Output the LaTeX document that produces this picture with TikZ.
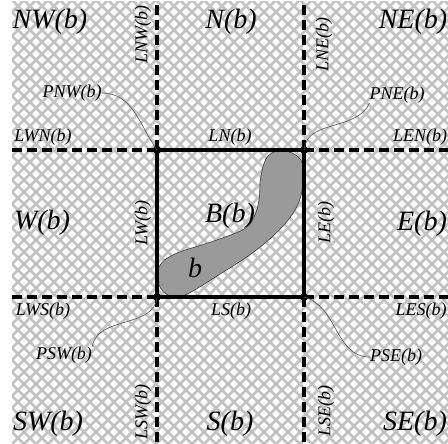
\documentclass[tikz,border=0pt]{standalone}
\usepackage{fontspec}
\setmainfont{Liberation Serif}
\usetikzlibrary{positioning, calc}
\usepackage{xcolor}
\definecolor{hatchgray}{HTML}{C2C2C2}
\definecolor{blobgray}{HTML}{9A9A9A}
\definecolor{leadgray}{HTML}{555555}

\begin{document}
\begin{tikzpicture}[x=1pt, y=1pt,
    big/.style={inner sep=0pt, font=\fontsize{28}{28}\selectfont\itshape},
    small/.style={inner sep=0pt, font=\fontsize{18}{18}\selectfont\itshape},
    side/.style={small, rotate=90},
    hatch/.style={draw=hatchgray, line width=2.7pt},
    border/.style={line width=3.6pt, dash pattern=on 10pt off 5pt},
    boxline/.style={line width=3.4pt},
    leader/.style={draw=leadgray, line width=0.6pt}]
    \useasboundingbox (0,0) rectangle (448,444);
    \begin{scope}
      \clip (12,0) rectangle (448,442);
      \foreach \k in {-456,-444,...,912} {
        \draw[hatch] (\k,0) -- ++(470,470);
        \draw[hatch] (\k,0) -- ++(-470,470);
      }
    \end{scope}

    \coordinate (cnw) at (157,294);
    \coordinate (cne) at (304,294);
    \coordinate (csw) at (157,147);
    \coordinate (cse) at (304,147);
    \coordinate (wn) at (12,294);
    \coordinate (en) at (448,294);
    \coordinate (ws) at (12,147);
    \coordinate (es) at (448,147);
    \coordinate (nw) at (157,442);
    \coordinate (ne) at (304,442);
    \coordinate (sw) at (157,0);
    \coordinate (se) at (304,0);

    \draw[fill=blobgray, draw=black!75, line width=0.6pt] plot[smooth cycle, tension=0.65] coordinates {
      (284,293) (301,284) (303,262) (298,240) (283,218) (255,193)
      (217,168) (185,149) (170,148) (159,159) (159,177) (175,190)
      (214,203) (244,215) (254,227) (259,244) (261,268) (268,288)};

    \draw[border] (cnw) -- (wn);
    \draw[border] (cne) -- (en);
    \draw[border] (csw) -- (ws);
    \draw[border] (cse) -- (es);
    \draw[border] (cnw) -- (nw);
    \draw[border] (cne) -- (ne);
    \draw[border] (csw) -- (sw);
    \draw[border] (cse) -- (se);
    \draw[boxline] (cnw) -- (cne) -- (cse) -- (csw) -- cycle;
    \foreach \c in {cnw, cne, csw, cse}
      \fill (\c) circle (4pt);

    \node[big] (rnw) at (50,422) {NW(b)};
    \node[big] (rn) at (231,422) {N(b)};
    \node[big] (rne) at (413,422) {NE(b)};
    \node[big] (rw) at (42,221) {W(b)};
    \node[big] (re) at (422,220) {E(b)};
    \node[big] (rsw) at (48,20) {SW(b)};
    \node[big] (rs) at (230,20) {S(b)};
    \node[big] (rse) at (415,20) {SE(b)};
    \node[big] (bb) at (230,228) {B(b)};
    \node[big] (blob) at (195,176) {b};

    \node[small] (lwn) at (43,307) {LWN(b)};
    \node[small] (ln) at (230,307) {LN(b)};
    \node[small] (len) at (420,307) {LEN(b)};
    \node[small] (lws) at (43,133) {LWS(b)};
    \node[small] (ls) at (231,133) {LS(b)};
    \node[small] (les) at (421,133) {LES(b)};
    \node[side] (lnw) at (143,409) {LNW(b)};
    \node[side] (lne) at (324,399) {LNE(b)};
    \node[side] (lw) at (143,221) {LW(b)};
    \node[side] (le) at (326,221) {LE(b)};
    \node[side] (lsw) at (143,32) {LSW(b)};
    \node[side] (lse) at (326,33) {LSE(b)};

    \node[small] (pnw) at (72,351) {PNW(b)};
    \node[small] (pne) at (397,349) {PNE(b)};
    \node[small] (psw) at (64,89) {PSW(b)};
    \node[small] (pse) at (396,87) {PSE(b)};

    \draw[leader] (pnw.east) to[out=0, in=125] (cnw);
    \draw[leader] (pne.south west) to[out=-115, in=85] (cne);
    \draw[leader] (psw.north east) to[out=80, in=-95] (csw);
    \draw[leader] (cse) to[out=-15, in=180] (pse.west);
\end{tikzpicture}
\end{document}
